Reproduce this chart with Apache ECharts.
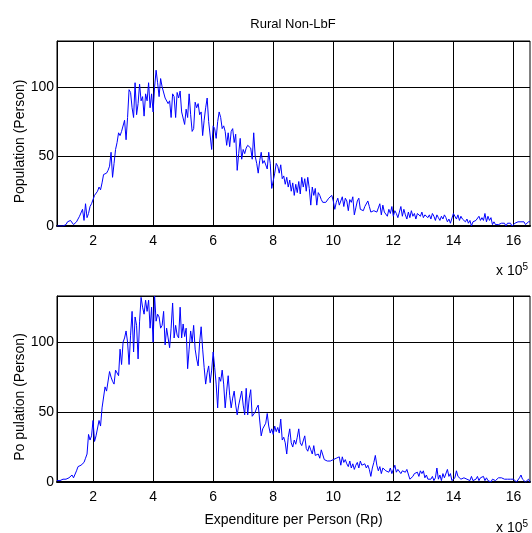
<!DOCTYPE html>
<html>
<head>
<meta charset="utf-8">
<script src="https://cdn.jsdelivr.net/npm/echarts@6/dist/echarts.min.js"></script>
<style>html,body{margin:0;padding:0;background:#fff}#c{width:532px;height:533px}</style>
</head>
<body>
<div id="c"></div>
<script>
// Expenditure bins (x 10^5 Rp): first bin and bin width
const binStart = 0.8;
const binWidth = 0.05;
const xTicks = [2, 4, 6, 8, 10, 12, 14, 16];
const yTicks = [0, 50, 100];
const titleText = 'Rural Non-LbF';
const xName = 'Expenditure per Person (Rp)';
const yNameTop = 'Population (Person)';
const yNameBottom = 'Po pulation (Person)';

// Top panel: population per expenditure bin
const popTop = [
  0,0,0,0,0,0,1,3,2,4,
  4,1,0,3,5,7,7,12,4,16,
  6,9,14,16,17,22,23,25,28,26,
  31,37,36,38,40,43,53,35,45,55,
  60,67,65,68,69,76,62,78,98,96,
  85,78,103,80,88,102,90,93,79,95,
  90,103,85,95,82,100,112,103,93,106,
  100,101,92,93,88,90,78,95,93,78,
  96,92,97,82,83,73,84,78,95,80,
  68,70,89,85,88,80,82,65,76,85,
  92,75,74,55,72,70,63,75,82,78,
  70,72,68,58,67,57,68,70,60,66,
  40,52,63,48,55,52,56,58,57,56,
  48,67,50,45,38,47,53,45,47,48,
  41,53,45,27,26,38,45,43,38,44,
  34,36,30,35,28,33,25,31,22,30,
  24,32,23,35,28,34,25,35,27,15,
  28,22,27,15,24,22,19,17,18,17,
  18,20,19,22,18,12,17,20,15,16,
  21,14,20,18,11,19,17,21,8,13,
  18,20,12,13,11,14,15,18,14,10,
  9,11,11,10,13,16,8,15,10,9,
  7,12,9,14,7,11,9,6,10,14,
  7,12,8,5,10,6,11,7,9,5,
  9,8,7,10,6,8,9,6,8,5,
  9,7,4,8,6,4,7,5,8,6,
  3,5,2,3,9,10,5,8,4,7,
  5,6,3,5,2,4,0,3,2,4,
  5,7,4,6,4,9,3,7,4,6,
  1,3,1,2,1,0,2,1,2,0,
  2,1,2,0,1,2,2,3,3,3,
  2,3,1,2,3,3
];

// Bottom panel: population per expenditure bin
const popBottom = [
  1,0,1,1,2,3,2,2,3,2,
  5,3,4,8,11,12,12,13,14,17,
  20,34,30,33,44,29,33,34,44,40,
  53,52,68,65,66,79,75,72,70,80,
  80,76,95,84,100,103,108,100,84,105,
  122,93,118,112,88,115,132,125,120,130,
  122,130,110,125,100,133,115,120,118,110,
  112,122,98,110,103,96,110,128,103,112,
  105,103,125,103,113,104,110,81,95,108,
  100,112,95,88,83,100,111,95,82,70,
  78,83,71,80,93,82,70,53,75,72,
  80,70,53,65,76,62,53,60,65,55,
  48,55,60,65,55,48,67,48,60,66,
  47,48,50,53,55,54,33,38,37,42,
  49,40,35,38,34,40,36,39,35,45,
  30,32,28,20,32,38,28,25,30,27,
  32,38,28,26,25,33,24,22,26,23,
  20,26,19,18,20,17,23,22,16,17,
  15,16,15,14,16,15,17,16,18,12,
  18,14,16,13,11,15,10,13,9,12,
  14,10,15,12,11,13,10,12,9,4,
  10,14,19,12,8,11,6,10,9,8,
  9,7,10,6,9,12,7,9,8,6,
  8,9,7,9,10,2,3,4,6,5,
  7,4,8,6,8,3,5,2,3,2,
  4,1,3,10,2,5,1,6,3,2,
  9,4,6,1,2,3,8,4,5,2,
  1,3,4,2,3,1,4,1,0,2,
  4,1,3,2,4,1,3,1,2,0,
  2,3,1,2,3,2,3,2,2,1,
  2,3,2,1,2,1,0,1,3,5,
  2,1,0,1,2,0
];

function pairs(vals) {
  return vals.map((v, i) => [binStart + i * binWidth, v]);
}
const xMin = binStart;
const xMax = binStart + (popTop.length - 1) * binWidth;

const FONT = "'Liberation Sans', Arial, Helvetica, sans-serif";
const chart = echarts.init(document.getElementById('c'), null, {renderer: 'canvas'});

function xAxisCfg(idx, withName) {
  return {
    type: 'value', gridIndex: idx, min: xMin, max: xMax,
    name: withName ? xName : '', nameLocation: 'middle', nameGap: 31,
    nameTextStyle: {color: '#000', fontSize: 14, fontFamily: FONT},
    axisLine: {show: true, onZero: false, lineStyle: {color: '#000', width: 2}},
    axisTick: {show: false, customValues: xTicks},
    axisLabel: {customValues: xTicks, color: '#000', fontSize: 14, fontFamily: FONT, margin: 8},
    splitLine: {show: true, lineStyle: {color: '#000', width: 1}}
  };
}
function yAxisCfg(idx, name) {
  return {
    type: 'value', gridIndex: idx, min: 0, max: 133, interval: 50,
    name: name, nameLocation: 'middle', nameGap: 30, nameRotate: 90, nameMoveOverlap: false,
    nameTextStyle: {color: '#000', fontSize: 14, fontFamily: FONT, padding: [0, 16, 0, 0]},
    axisLine: {show: true, lineStyle: {color: '#000', width: 1}},
    axisTick: {show: false},
    axisLabel: {color: '#000', fontSize: 14, fontFamily: FONT, margin: 3, showMaxLabel: false,
      formatter: v => (yTicks.indexOf(v) >= 0 ? String(v) : '')},
    splitLine: {show: true, lineStyle: {color: '#000', width: 1}}
  };
}

chart.setOption({
  animation: false,
  backgroundColor: '#fff',
  title: {text: titleText, left: 288, top: 13, textAlign: 'center',
    textStyle: {fontSize: 13, fontWeight: 'normal', color: '#000', fontFamily: FONT}},
  grid: [
    {left: 57, top: 41, width: 473, height: 185, show: true, borderColor: '#000', borderWidth: 1,
      backgroundColor: '#fff', containLabel: false, outerBoundsMode: 'none'},
    {left: 57, top: 296, width: 473, height: 186, show: true, borderColor: '#000', borderWidth: 1,
      backgroundColor: '#fff', containLabel: false, outerBoundsMode: 'none'}
  ],
  xAxis: [xAxisCfg(0, false), xAxisCfg(1, true)],
  yAxis: [yAxisCfg(0, yNameTop), yAxisCfg(1, yNameBottom)],
  series: [
    {type: 'line', xAxisIndex: 0, yAxisIndex: 0, data: pairs(popTop), showSymbol: false,
      lineStyle: {color: '#0000ff', width: 1}, clip: true},
    {type: 'line', xAxisIndex: 1, yAxisIndex: 1, data: pairs(popBottom), showSymbol: false,
      lineStyle: {color: '#0000ff', width: 1}, clip: true}
  ],
  graphic: [
    {type: 'text', left: 496, top: 262, style: {text: 'x 10{s|5}', fill: '#000', font: '14px ' + FONT,
      rich: {s: {fontSize: 10, fontFamily: FONT, verticalAlign: 'top', padding: [0, 0, 8, 0]}}}},
    {type: 'text', left: 496, top: 519, style: {text: 'x 10{s|5}', fill: '#000', font: '14px ' + FONT,
      rich: {s: {fontSize: 10, fontFamily: FONT, verticalAlign: 'top', padding: [0, 0, 8, 0]}}}}
  ]
});
</script>
</body>
</html>
